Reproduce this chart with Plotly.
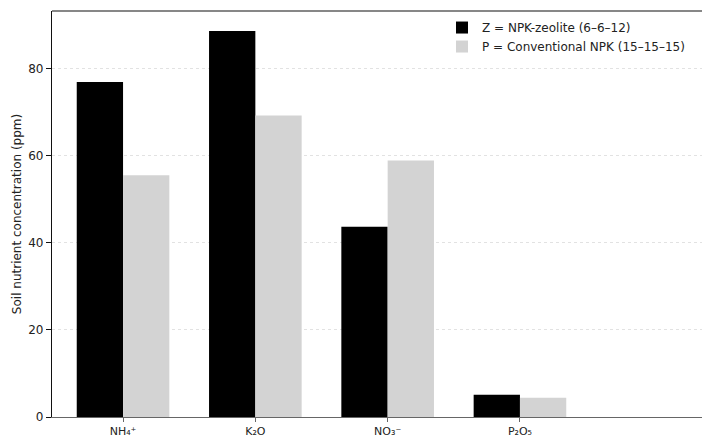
import plotly.graph_objects as go

categories = ["NH₄⁺", "K₂O", "NO₃⁻", "P₂O₅"]
zeolite_values = [76.9, 88.6, 43.7, 5.1]
conventional_values = [55.5, 69.2, 58.9, 4.4]
series_names = ["Z = NPK-zeolite (6–6–12)", "P = Conventional NPK (15–15–15)"]
y_ticks = [0, 20, 40, 60, 80]

fig = go.Figure()
fig.add_trace(go.Bar(x=categories, y=zeolite_values, name=series_names[0],
                     marker=dict(color="#000000", line=dict(width=0))))
fig.add_trace(go.Bar(x=categories, y=conventional_values, name=series_names[1],
                     marker=dict(color="#d3d3d3", line=dict(width=0))))

fig.update_layout(
    width=702, height=437,
    margin=dict(l=52, r=0, t=11, b=20),
    paper_bgcolor="white", plot_bgcolor="white",
    barmode="group", bargap=0.3, bargroupgap=0,
    font=dict(family="DejaVu Sans", size=12, color="#222"),
    showlegend=True,
    legend=dict(x=0.6, y=0.995, xanchor="left", yanchor="top",
                bgcolor="rgba(255,255,255,0)", font=dict(size=12),
                tracegroupgap=0, itemsizing="constant"),
    xaxis=dict(type="category", range=[-0.537, 4.376],
               showline=True, linecolor="#666", linewidth=1.2,
               ticks="outside", ticklen=4, tickcolor="#666",
               showgrid=False, tickfont=dict(size=11), automargin=False),
    yaxis=dict(range=[0, 93.2], tickvals=y_ticks,
               showline=True, linecolor="#111", linewidth=1.2,
               ticks="outside", ticklen=5, tickcolor="#111",
               showgrid=True, gridcolor="rgba(190,190,190,0.45)", griddash="dot",
               gridwidth=1, zeroline=False, layer="above traces", automargin=False,
               title=dict(text="Soil nutrient concentration (ppm)", standoff=4,
                          font=dict(size=12)),
               tickfont=dict(size=12)),
    shapes=[dict(type="line", xref="paper", yref="paper", x0=0, x1=1, y0=1, y1=1,
                 line=dict(color="#111", width=1.2))],
)

fig.write_html("out.html", config={"displayModeBar": False},
               post_script="document.body.style.margin='0';document.body.style.overflow='hidden';")
